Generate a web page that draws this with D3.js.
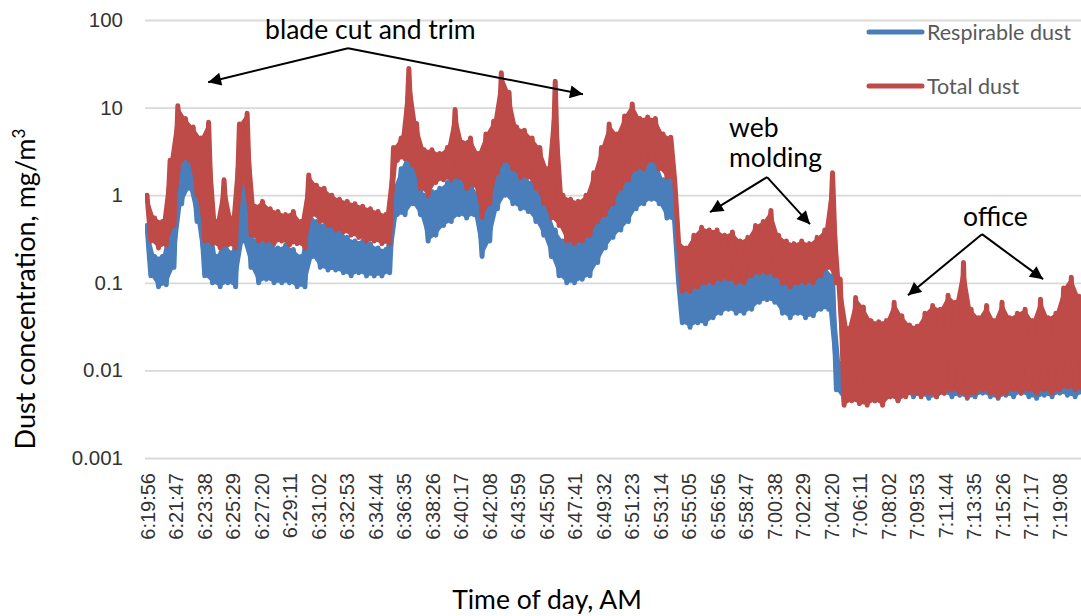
<!DOCTYPE html>
<html>
<head>
<meta charset="utf-8">
<script src="https://cdn.jsdelivr.net/npm/d3@7"></script>
<style>
  body { margin: 0; background: #fff; }
  svg { display: block; }
</style>
</head>
<body>
<svg id="chart" width="1081" height="616"></svg>
<script>
// x axis category labels (one every 111 s)
var timeLabels = ["6:19:56","6:21:47","6:23:38","6:25:29","6:27:20","6:29:11","6:31:02","6:32:53",
  "6:34:44","6:36:35","6:38:26","6:40:17","6:42:08","6:43:59","6:45:50","6:47:41","6:49:32",
  "6:51:23","6:53:14","6:55:05","6:56:56","6:58:47","7:00:38","7:02:29","7:04:20","7:06:11",
  "7:08:02","7:09:53","7:11:44","7:13:35","7:15:26","7:17:17","7:19:08"];
var yTicks = [0.001, 0.01, 0.1, 1, 10, 100];
var yLabels = ["0.001", "0.01", "0.1", "1", "10", "100"];

// readings, as max/min per 30 s window (mg/m3)
var stepSec = 30;
var totalHi = [1.0, 0.55, 0.5, 2.5, 10.5, 7.5, 6, 4.5, 6.8, 0.5,
  1.5, 0.55, 6.5, 8.6, 0.75, 0.85, 0.7, 0.65, 0.6, 0.65,
  0.5, 1.7, 1.3, 1.2, 1.0, 0.9, 0.85, 0.8, 0.75, 0.7,
  0.65, 0.6, 3.5, 4.5, 28, 6.6, 3.3, 3.3, 3.0, 3.5,
  9.5, 4.0, 4.5, 3.0, 5.0, 7.0, 25, 15, 6.0, 5.5,
  4.5, 3.5, 2.0, 20, 1.0, 0.9, 0.85, 1.0, 1.8, 3.5,
  6.5, 5.0, 8.0, 11, 7.5, 7.8, 7.5, 5.0, 4.6, 0.3,
  0.25, 0.35, 0.43, 0.4, 0.4, 0.35, 0.38, 0.3, 0.33, 0.45,
  0.5, 0.67, 0.35, 0.3, 0.28, 0.3, 0.28, 0.33, 0.4, 1.8,
  0.11, 0.03, 0.068, 0.053, 0.037, 0.036, 0.037, 0.06, 0.042, 0.033,
  0.032, 0.045, 0.055, 0.05, 0.072, 0.06, 0.17, 0.05, 0.04, 0.055,
  0.037, 0.06, 0.04, 0.045, 0.05, 0.037, 0.065, 0.04, 0.045, 0.087,
  0.116, 0.07];
var totalLo = [0.3, 0.25, 0.27, 0.45, 2.5, 2.5, 1.0, 0.3, 0.28, 0.25,
  0.27, 0.25, 1.5, 0.35, 0.3, 0.3, 0.28, 0.3, 0.27, 0.28,
  0.25, 0.6, 0.5, 0.45, 0.4, 0.38, 0.35, 0.33, 0.3, 0.3,
  0.28, 0.28, 2.5, 2.6, 2.2, 1.2, 1.0, 1.4, 1.5, 1.5,
  1.6, 1.2, 1.3, 0.56, 0.8, 1.8, 2.5, 2.0, 1.6, 1.6,
  1.2, 0.8, 0.55, 0.45, 0.3, 0.28, 0.3, 0.35, 0.5, 0.6,
  0.8, 1.2, 1.5, 2.0, 2.0, 2.5, 2.0, 1.6, 1.5, 0.08,
  0.08, 0.09, 0.1, 0.1, 0.11, 0.11, 0.1, 0.1, 0.12, 0.13,
  0.13, 0.12, 0.1, 0.09, 0.1, 0.1, 0.1, 0.12, 0.15, 0.1,
  0.004, 0.0045, 0.0042, 0.004, 0.0045, 0.004, 0.005, 0.0045, 0.005, 0.0055,
  0.005, 0.0055, 0.005, 0.0055, 0.006, 0.0055, 0.005, 0.0055, 0.006, 0.0055,
  0.005, 0.0055, 0.006, 0.0055, 0.006, 0.0055, 0.006, 0.0055, 0.006, 0.0065,
  0.006, 0.006];
var respHi = [0.45, 0.2, 0.2, 0.5, 3.9, 3.0, 2.0, 0.6, 0.8, 0.2,
  0.3, 0.22, 1.9, 1.2, 0.3, 0.32, 0.28, 0.25, 0.27, 0.24,
  0.2, 0.64, 0.5, 0.45, 0.45, 0.4, 0.33, 0.3, 0.3, 0.28,
  0.25, 0.24, 1.2, 2.0, 3.2, 2.0, 1.0, 1.1, 1.2, 1.4,
  2.3, 1.6, 1.4, 1.0, 1.5, 3.3, 3.3, 2.7, 1.9, 1.6,
  1.4, 1.1, 0.7, 0.4, 0.3, 0.33, 0.3, 0.35, 0.6, 1.0,
  1.5, 1.6, 2.0, 2.8, 2.5, 3.0, 2.6, 1.5, 1.6, 0.107,
  0.1, 0.11, 0.13, 0.12, 0.15, 0.14, 0.13, 0.11, 0.12, 0.15,
  0.2, 0.18, 0.13, 0.1, 0.1, 0.11, 0.12, 0.13, 0.15, 0.12,
  0.012, 0.009, 0.01, 0.011, 0.009, 0.01, 0.012, 0.009, 0.01, 0.011,
  0.01, 0.009, 0.012, 0.01, 0.011, 0.009, 0.01, 0.012, 0.01, 0.009,
  0.011, 0.01, 0.012, 0.009, 0.01, 0.011, 0.01, 0.012, 0.01, 0.011,
  0.012, 0.011];
var respLo = [0.12, 0.09, 0.095, 0.15, 0.8, 1.2, 0.5, 0.12, 0.1, 0.09,
  0.1, 0.09, 0.3, 0.15, 0.1, 0.11, 0.1, 0.1, 0.1, 0.09,
  0.09, 0.2, 0.15, 0.14, 0.14, 0.13, 0.12, 0.13, 0.12, 0.12,
  0.12, 0.13, 0.6, 0.6, 0.8, 0.6, 0.3, 0.35, 0.45, 0.5,
  0.6, 0.55, 0.6, 0.2, 0.3, 0.7, 1.0, 0.8, 0.7, 0.65,
  0.5, 0.35, 0.2, 0.12, 0.1, 0.1, 0.11, 0.12, 0.17, 0.25,
  0.33, 0.4, 0.5, 0.7, 0.8, 0.9, 0.8, 0.55, 0.5, 0.035,
  0.031, 0.035, 0.034, 0.04, 0.045, 0.05, 0.045, 0.045, 0.05, 0.06,
  0.064, 0.06, 0.045, 0.04, 0.045, 0.04, 0.042, 0.05, 0.05, 0.006,
  0.0045, 0.005, 0.0042, 0.0048, 0.0045, 0.0052, 0.005, 0.0045, 0.0055, 0.005,
  0.0052, 0.0048, 0.005, 0.0055, 0.005, 0.0052, 0.0048, 0.005, 0.0055, 0.005,
  0.0048, 0.0052, 0.005, 0.0055, 0.005, 0.0048, 0.0052, 0.005, 0.0055, 0.0052,
  0.005, 0.0055];

var seriesNames = ["Respirable dust", "Total dust"];
var seriesColors = ["#4a7ebb", "#be4b48"];

// annotations, placed in data units (seconds after 6:19:56, mg/m3)
var notes = [
  {text: "blade cut and trim", t: 460, v: 60},
  {text: "web", t: 2267, v: 4.6},
  {text: "molding", t: 2267, v: 2.1},
  {text: "office", t: 3178, v: 0.44}
];
var arrows = [
  {t1: 783, v1: 47.7, t2: 238, v2: 19.5},
  {t1: 783, v1: 47.7, t2: 1698, v2: 14.2},
  {t1: 2415, v1: 1.61, t2: 2193, v2: 0.64},
  {t1: 2415, v1: 1.61, t2: 2582, v2: 0.467},
  {t1: 3252, v1: 0.359, t2: 2964, v2: 0.0722},
  {t1: 3252, v1: 0.359, t2: 3490, v2: 0.11}
];

function toSec(s) {
  var p = s.split(":");
  return (+p[0]) * 3600 + (+p[1]) * 60 + (+p[2]);
}
var tStart = toSec(timeLabels[0]);
var tickSecs = timeLabels.map(function(s){ return toSec(s) - tStart; });

var W = 1081, H = 616;
var plotLeft = 145, plotTop = 20, plotBottom = 458;
var font = "Lato, sans-serif";

var x = d3.scaleLinear().domain([0, 111]).range([147, 175.5]);
var y = d3.scaleLog().domain([0.001, 100]).range([plotBottom, plotTop]);

var svg = d3.select("#chart");
var defs = svg.append("defs");

defs.append("clipPath").attr("id", "plotclip")
  .append("rect").attr("x", plotLeft).attr("y", 0)
  .attr("width", W - plotLeft).attr("height", plotBottom + 4);

defs.append("marker")
  .attr("id", "head").attr("viewBox", "0 0 10 10")
  .attr("refX", 10).attr("refY", 5)
  .attr("markerUnits", "userSpaceOnUse")
  .attr("markerWidth", 17).attr("markerHeight", 13)
  .attr("orient", "auto")
  .append("path").attr("d", "M0,0 L10,5 L0,10 z").attr("fill", "#000");

// y axis + gridlines
var yAxis = d3.axisLeft(y).tickValues(yTicks)
  .tickFormat(function(d, i){ return yLabels[i]; })
  .tickSize(-(W - plotLeft)).tickPadding(22);
var gy = svg.append("g").attr("transform", "translate(" + plotLeft + ",0)").call(yAxis);
gy.select(".domain").remove();
gy.selectAll(".tick line").attr("stroke", "#d9d9d9").attr("stroke-width", 1.8);
gy.selectAll(".tick text").attr("font-family", "'Liberation Sans', Arial, sans-serif")
  .attr("font-size", 20.5).attr("fill", "#333");

// x axis labels
var xAxis = d3.axisBottom(x).tickValues(tickSecs)
  .tickFormat(function(d, i){ return timeLabels[i]; }).tickSize(0);
var gx = svg.append("g").attr("transform", "translate(0," + plotBottom + ")").call(xAxis);
gx.select(".domain").remove();
gx.selectAll(".tick text")
  .attr("transform", "rotate(-90)")
  .attr("text-anchor", "end")
  .attr("x", -15).attr("y", 0).attr("dy", "0.36em")
  .attr("font-family", "'Liberation Sans', Arial, sans-serif")
  .attr("font-size", 20).attr("fill", "#333");

// each 30 s window: max at its start, min half way through
function windows(hi, lo) {
  return hi.map(function(h, k){ return {t: k * stepSec, hi: h, lo: lo[k]}; });
}
function zigzag(w) {
  var pts = [];
  w.forEach(function(d){
    pts.push({t: d.t, v: d.hi});
    pts.push({t: d.t + stepSec / 2, v: d.lo});
  });
  return pts;
}
var band = d3.area()
  .x1(function(d){ return x(d.t); }).y1(function(d){ return y(d.hi); })
  .x0(function(d){ return x(d.t + stepSec / 2); }).y0(function(d){ return y(d.lo); });
var line = d3.line().x(function(d){ return x(d.t); }).y(function(d){ return y(d.v); });

var series = [windows(respHi, respLo), windows(totalHi, totalLo)];
var plot = svg.append("g").attr("clip-path", "url(#plotclip)");
var sg = plot.selectAll("g.series").data(series).enter().append("g").attr("class", "series");
sg.append("path")
  .attr("d", band)
  .attr("fill", function(d, i){ return seriesColors[i]; });
sg.append("path")
  .attr("d", function(d){ return line(zigzag(d)); })
  .attr("fill", "none")
  .attr("stroke", function(d, i){ return seriesColors[i]; })
  .attr("stroke-width", 5)
  .attr("stroke-linejoin", "round")
  .attr("stroke-linecap", "round");

// legend
var leg = svg.append("g");
seriesNames.forEach(function(name, i) {
  var ly = 32 + i * 54;
  leg.append("line").attr("x1", 869).attr("x2", 922).attr("y1", ly).attr("y2", ly)
    .attr("stroke", seriesColors[i]).attr("stroke-width", 5).attr("stroke-linecap", "round");
  leg.append("text").attr("x", 927).attr("y", ly).attr("dy", "0.35em")
    .attr("font-family", font).attr("font-size", 21.5)
    .attr("fill", "#595959").text(name);
});

// annotations
svg.append("g").selectAll("line").data(arrows).enter().append("line")
  .attr("x1", function(d){ return x(d.t1); }).attr("y1", function(d){ return y(d.v1); })
  .attr("x2", function(d){ return x(d.t2); }).attr("y2", function(d){ return y(d.v2); })
  .attr("stroke", "#000").attr("stroke-width", 2)
  .attr("marker-end", "url(#head)");
svg.append("g").selectAll("text").data(notes).enter().append("text")
  .attr("x", function(d){ return x(d.t); }).attr("y", function(d){ return y(d.v); })
  .attr("font-family", font).attr("font-size", 26.5)
  .attr("fill", "#000").text(function(d){ return d.text; });

// axis titles
svg.append("text").attr("x", 547).attr("y", 609).attr("text-anchor", "middle")
  .attr("font-family", font).attr("font-size", 26.5).attr("fill", "#000")
  .text("Time of day, AM");
var yt = svg.append("text").attr("transform", "translate(35,289) rotate(-90)")
  .attr("text-anchor", "middle")
  .attr("font-family", font).attr("font-size", 27).attr("fill", "#000");
yt.append("tspan").text("Dust concentration, mg/m");
yt.append("tspan").attr("font-size", 17).attr("dy", "-10").text("3");
</script>
</body>
</html>
